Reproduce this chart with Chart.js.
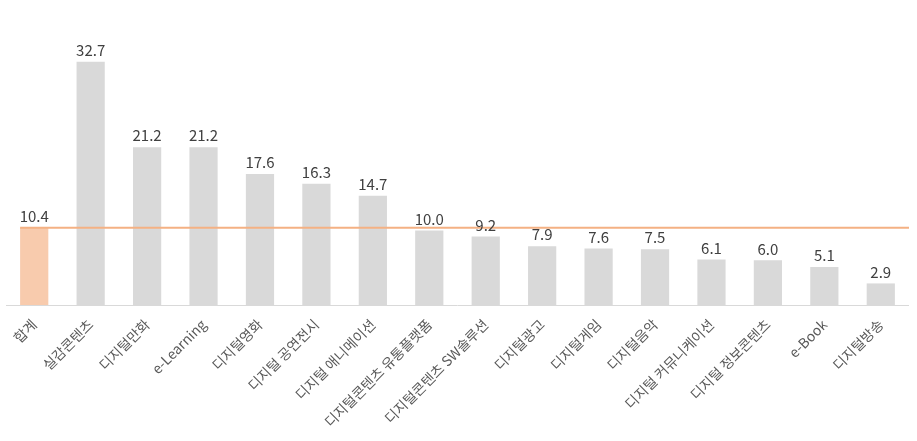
<!DOCTYPE html>
<html><head><meta charset="utf-8">
<script src="https://cdn.jsdelivr.net/npm/chart.js@4"></script>
<style>html,body{margin:0;background:#fff}#wrap{width:917px;height:441px}</style>
</head><body><div id="wrap"><canvas id="c"></canvas></div>
<script>
const categories = ['합계','실감콘텐츠','디지털만화','e-Learning','디지털영화','디지털 공연전시','디지털 애니메이션','디지털콘텐츠 유통플랫폼','디지털콘텐츠 SW솔루션','디지털광고','디지털게임','디지털음악','디지털 커뮤니케이션','디지털 정보콘텐츠','e-Book','디지털방송'];
const values = [10.4,32.7,21.2,21.2,17.6,16.3,14.7,10.0,9.2,7.9,7.6,7.5,6.1,6.0,5.1,2.9];
const avgLine = 10.4;

const font = '"Noto Sans CJK KR", "Noto Sans", sans-serif';

const extras = {
  id: 'extras',
  afterDatasetsDraw(chart) {
    const ctx = chart.ctx, y = chart.scales.y, area = chart.chartArea;
    const meta = chart.getDatasetMeta(0);
    ctx.save();
    // average line
    ctx.strokeStyle = '#f4b183'; ctx.lineWidth = 2;
    ctx.beginPath();
    ctx.moveTo(meta.data[0].x - meta.data[0].width / 2, y.getPixelForValue(avgLine));
    ctx.lineTo(area.right, y.getPixelForValue(avgLine));
    ctx.stroke();
    // value labels
    ctx.fillStyle = '#404040'; ctx.font = '15px ' + font;
    ctx.textAlign = 'center'; ctx.textBaseline = 'bottom';
    meta.data.forEach((b, i) => ctx.fillText(values[i].toFixed(1), b.x, b.y - 4));
    // baseline
    ctx.strokeStyle = '#d9d9d9'; ctx.lineWidth = 1;
    ctx.beginPath(); ctx.moveTo(area.left, y.getPixelForValue(0) + 0.5); ctx.lineTo(area.right, y.getPixelForValue(0) + 0.5); ctx.stroke();
    ctx.restore();
  }
};

new Chart(document.getElementById('c'), {
  type: 'bar',
  data: { labels: categories, datasets: [{
    data: values,
    backgroundColor: values.map((v, i) => i === 0 ? '#f8cbad' : '#d9d9d9'),
    categoryPercentage: 1, barPercentage: 0.5
  }]},
  options: {
    responsive: true, maintainAspectRatio: false, animation: false,
    layout: { padding: { top: 0, left: 6, right: 8, bottom: 0 } },
    plugins: { legend: { display: false }, tooltip: { enabled: false } },
    scales: {
      x: {
        grid: { display: false }, border: { display: false },
        afterFit: s => { s.height = 136; },
        ticks: { minRotation: 45, maxRotation: 45, color: '#595959', autoSkip: false, font: { size: 14, family: font } }
      },
      y: { min: 0, max: 41, display: false }
    }
  },
  plugins: [extras]
});
</script></body></html>
